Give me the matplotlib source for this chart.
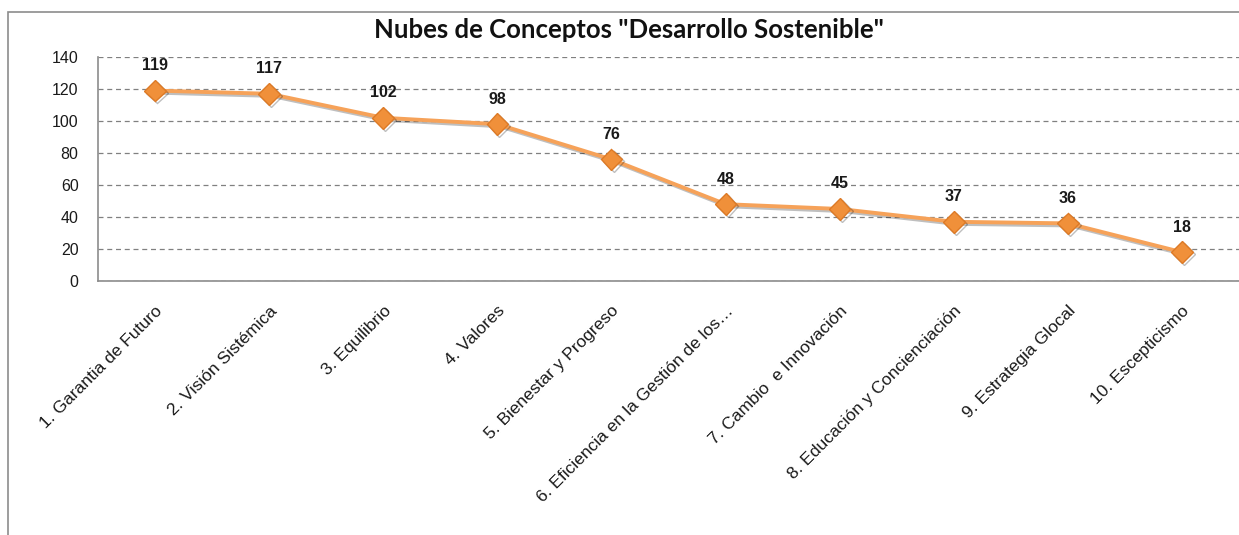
import matplotlib.pyplot as plt
import matplotlib.patches as mpatches
import matplotlib.patheffects as pe

# datos
conceptos = [
    "1. Garantia de Futuro",
    "2. Visión Sistémica",
    "3. Equilibrio",
    "4. Valores",
    "5. Bienestar y Progreso",
    "6. Eficiencia en la Gestión de los…",
    "7. Cambio  e Innovación",
    "8. Educación y Concienciación",
    "9. Estrategia Glocal",
    "10. Escepticismo",
]
frecuencias = [119, 117, 102, 98, 76, 48, 45, 37, 36, 18]
y_ticks = [0, 20, 40, 60, 80, 100, 120, 140]

fig = plt.figure(figsize=(12.39, 5.35), dpi=100)
ax = fig.add_axes([0.0791, 0.4748, 0.9209, 0.4187])

# marco exterior del gráfico
marco = mpatches.Rectangle(
    (0.0065, -0.2), 2.0, 0.9776 + 0.2,
    transform=fig.transFigure, fill=False, edgecolor="#8c8c8c", linewidth=1.2,
    clip_on=False,
)
fig.patches.append(marco)

x = list(range(len(conceptos)))
sombra = [pe.SimpleLineShadow(offset=(1.5, -1.5), alpha=0.25), pe.Normal()]
ax.plot(
    x, frecuencias, color="#F6A259", linewidth=2.8,
    marker="D", markersize=11, markerfacecolor="#F0903A",
    markeredgecolor="#DD7A26", markeredgewidth=1.0,
    path_effects=sombra, zorder=3,
)

for xi, v in zip(x, frecuencias):
    ax.annotate(
        str(v), (xi, v), xytext=(0, 18), textcoords="offset points",
        ha="center", va="center", fontsize=11.5, fontweight="bold",
        family="Liberation Sans", color="#1a1a1a",
    )

ax.set_xlim(-0.5, len(conceptos) - 0.5)
ax.set_ylim(0, 140)
ax.set_yticks(y_ticks)
ax.set_yticklabels([str(t) for t in y_ticks], family="Liberation Sans", fontsize=11.5)
ax.set_xticks(x)
ax.set_xticklabels(
    conceptos, rotation=45, ha="right", rotation_mode="anchor",
    family="Liberation Sans", fontsize=12.5,
)
ax.tick_params(axis="y", length=0, pad=14, colors="#1a1a1a")
ax.tick_params(axis="x", length=0, pad=16, colors="#1a1a1a")

ax.grid(axis="y", linestyle=(0, (4, 3)), color="#808080", linewidth=0.9)
ax.set_axisbelow(True)
for lado in ["top", "right"]:
    ax.spines[lado].set_visible(False)
ax.spines["left"].set_color("#8c8c8c")
ax.spines["bottom"].set_color("#8c8c8c")
ax.spines["left"].set_linewidth(1.2)
ax.spines["bottom"].set_linewidth(1.2)

fig.text(
    0.508, 0.944, 'Nubes de Conceptos "Desarrollo Sostenible"',
    ha="center", va="center", fontsize=18.5, fontweight="bold",
    family="Lato", color="#111111",
)

fig.savefig("out.png", dpi=100)
